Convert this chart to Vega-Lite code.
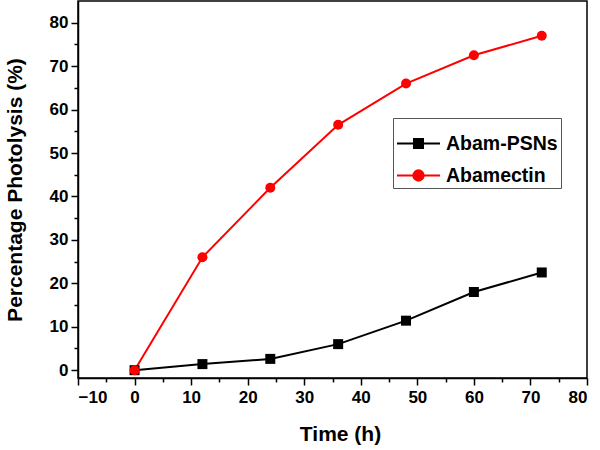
{
  "$schema": "https://vega.github.io/schema/vega-lite/v6.json",
  "width": 509,
  "height": 377,
  "autosize": {"type": "none"},
  "padding": {"left": 78, "top": 1, "right": 13, "bottom": 72},
  "background": "white",
  "config": {
    "view": {"stroke": "black", "strokeWidth": 1.5},
    "font": "Liberation Sans",
    "legend": {"strokeColor": "#555555", "fillColor": "white", "padding": 3}
  },
  "data": {
    "values": [
      {"time": 0, "value": 0, "series": "Abam-PSNs"},
      {"time": 12, "value": 1.4, "series": "Abam-PSNs"},
      {"time": 24, "value": 2.6, "series": "Abam-PSNs"},
      {"time": 36, "value": 6.0, "series": "Abam-PSNs"},
      {"time": 48, "value": 11.4, "series": "Abam-PSNs"},
      {"time": 60, "value": 18.0, "series": "Abam-PSNs"},
      {"time": 72, "value": 22.5, "series": "Abam-PSNs"},
      {"time": 0, "value": 0, "series": "Abamectin"},
      {"time": 12, "value": 26.0, "series": "Abamectin"},
      {"time": 24, "value": 42.0, "series": "Abamectin"},
      {"time": 36, "value": 56.5, "series": "Abamectin"},
      {"time": 48, "value": 66.0, "series": "Abamectin"},
      {"time": 60, "value": 72.5, "series": "Abamectin"},
      {"time": 72, "value": 77.0, "series": "Abamectin"}
    ]
  },
  "resolve": {
    "axis": {"x": "independent", "y": "independent"},
    "scale": {"color": "independent", "shape": "independent"},
    "legend": {"color": "independent", "shape": "independent"}
  },
  "layer": [
    {
      "mark": {"type": "line", "strokeWidth": 2},
      "encoding": {
        "x": {
          "field": "time", "type": "quantitative",
          "scale": {"domain": [-10, 80], "nice": false, "zero": false},
          "axis": {
            "orient": "bottom",
            "values": [-10, 0, 10, 20, 30, 40, 50, 60, 70, 80],
            "title": "Time (h)",
            "titleFont": "Liberation Sans", "titleFontSize": 21, "titleFontWeight": "bold", "titleColor": "black",
            "titlePadding": 18, "titleX": 262,
            "labelFont": "Liberation Sans", "labelFontSize": 17, "labelFontWeight": "bold", "labelColor": "black",
            "labelPadding": 4,
            "grid": false, "domainColor": "black", "domainWidth": 1.5,
            "tickColor": "black", "tickWidth": 1.5, "tickSize": 7
          }
        },
        "y": {
          "field": "value", "type": "quantitative",
          "scale": {"domain": [-1.8, 85], "nice": false, "zero": false},
          "axis": {
            "orient": "left",
            "values": [0, 10, 20, 30, 40, 50, 60, 70, 80],
            "title": "Percentage Photolysis (%)",
            "titleFont": "Liberation Sans", "titleFontSize": 21, "titleFontWeight": "bold", "titleColor": "black",
            "titlePadding": 24,
            "labelFont": "Liberation Sans", "labelFontSize": 17, "labelFontWeight": "bold", "labelColor": "black",
            "labelPadding": 3,
            "grid": false, "domainColor": "black", "domainWidth": 1.5,
            "tickColor": "black", "tickWidth": 1.5, "tickSize": 7
          }
        },
        "color": {
          "field": "series", "type": "nominal",
          "scale": {"domain": ["Abam-PSNs", "Abamectin"], "range": ["black", "#ff0000"]},
          "legend": {
            "orient": "none", "legendX": 315, "legendY": 117,
            "title": null,
            "symbolSize": 1849,
            "symbolStrokeWidth": 2,
            "labelFont": "Liberation Sans", "labelFontSize": 19.5, "labelFontWeight": "bold", "labelColor": "black",
            "labelOffset": 5,
            "strokeColor": "#555555", "fillColor": "white", "padding": 3,
            "rowPadding": -5,
            "encoding": {
              "symbols": {
                "shape": {"value": {"expr": "datum.value === 'Abamectin' ? 'M-1,0H1M0.24,0A0.24,0.24,0,1,1,-0.24,0A0.24,0.24,0,1,1,0.24,0Z' : 'M-1,0H1M-0.21,-0.21H0.21V0.21H-0.21Z'"}},
                "fill": {"value": {"expr": "datum.value === 'Abamectin' ? '#ff0000' : 'black'"}},
                "stroke": {"value": {"expr": "datum.value === 'Abamectin' ? '#ff0000' : 'black'"}},
                "strokeWidth": {"value": 2}
              }
            }
          }
        }
      }
    },
    {
      "mark": {"type": "point", "filled": true, "opacity": 1, "size": 100},
      "encoding": {
        "x": {"field": "time", "type": "quantitative", "axis": null},
        "y": {"field": "value", "type": "quantitative", "axis": null},
        "color": {
          "field": "series", "type": "nominal",
          "scale": {"domain": ["Abam-PSNs", "Abamectin"], "range": ["black", "#ff0000"]},
          "legend": null
        },
        "shape": {
          "field": "series", "type": "nominal",
          "scale": {"domain": ["Abam-PSNs", "Abamectin"], "range": ["square", "circle"]},
          "legend": null
        }
      }
    },
    {
      "mark": {"type": "point", "opacity": 0},
      "encoding": {
        "x": {
          "field": "time", "type": "quantitative",
          "axis": {
            "orient": "bottom",
            "values": [-5, 5, 15, 25, 35, 45, 55, 65, 75],
            "labels": false, "title": null, "domain": false, "grid": false,
            "tickColor": "black", "tickWidth": 1.5, "tickSize": 4
          }
        },
        "y": {
          "field": "value", "type": "quantitative",
          "axis": {
            "orient": "left",
            "values": [5, 15, 25, 35, 45, 55, 65, 75],
            "labels": false, "title": null, "domain": false, "grid": false,
            "tickColor": "black", "tickWidth": 1.5, "tickSize": 4
          }
        }
      }
    }
  ]
}
